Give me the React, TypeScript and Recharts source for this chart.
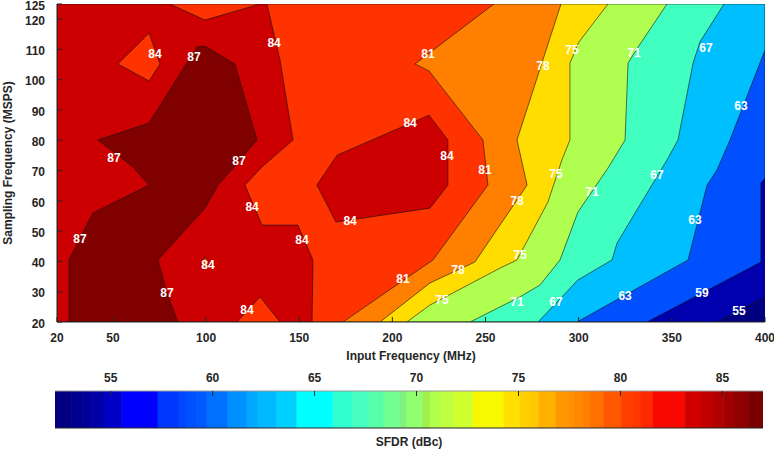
// Mapa de contorno del SFDR (dBc) frente a frecuencia de entrada y de muestreo, con barra de color.
import { Scatter, ScatterChart, XAxis, YAxis } from "recharts";

type Pt = [number, number];

const X_TICKS = [20, 50, 100, 150, 200, 250, 300, 350, 400];
const Y_TICKS = [20, 30, 40, 50, 60, 70, 80, 90, 100, 110, 120, 125];

// Zonas por encima de cada nivel (MHz, MSPS), se pintan de menor a mayor.
const BASE: Pt[] = [[20, 125], [400, 125], [400, 20], [20, 20]];
const LEVEL_55: Pt[] = [[20, 125], [400, 125], [400, 28.3], [374.2, 20], [20, 20]];
const LEVEL_59: Pt[] = [[20, 125], [400, 125], [400, 67.5], [397.8, 65.9], [397.8, 39.8], [336.7, 20], [20, 20]];
const LEVEL_63: Pt[] = [[20, 125], [400, 125], [400, 109.8], [381.2, 80.1], [374.2, 70.2], [368.9, 65.2], [358.7, 40.5], [299.1, 20], [20, 20]];
const LEVEL_67: Pt[] = [[20, 125], [378, 125], [365.1, 112.5], [361.4, 105.5], [353.3, 80.1], [347.4, 73.5], [320.6, 46.1], [317.9, 40.5], [299.6, 33.9], [278.2, 20], [20, 20]];
const LEVEL_71: Pt[] = [[20, 125], [347.4, 125], [331.9, 110.8], [326.5, 105.5], [324.9, 80.1], [315.7, 70.8], [299.6, 56.3], [290, 40.5], [279.2, 32.2], [268.5, 28.3], [241.7, 20], [20, 20]];
const LEVEL_75: Pt[] = [[20, 125], [315.7, 125], [300.2, 112.5], [295.3, 105.5], [295.3, 80.1], [291, 73.5], [283.5, 59.6], [266.9, 40.5], [257.8, 37.8], [220.2, 25.6], [207.8, 20], [20, 20]];
const LEVEL_78: Pt[] = [[20, 125], [290.5, 125], [266.9, 80.1], [272.3, 65.2], [244.3, 39.8], [220.2, 32.9], [193.4, 20], [20, 20]];
const LEVEL_81: Pt[] = [[20, 125], [254.5, 125], [212.1, 105.2], [219.7, 102.9], [248.6, 80.1], [251.3, 65.2], [221.8, 40.5], [173.5, 20], [20, 20]];
const LEVEL_84_WEST: Pt[] = [[20, 125], [80.6, 125], [99.4, 119.7], [129, 125], [132.7, 125], [139.7, 106.5], [146.7, 80.1], [130, 71.2], [120.9, 65.2], [130, 52], [149.3, 52], [157.4, 40.5], [156.9, 20], [139.7, 20], [129, 28.3], [116.6, 20], [20, 20]];
const LEVEL_84_MID: Pt[] = [[170.3, 75.1], [219.7, 88.3], [229.8, 80.1], [229.8, 65.2], [220.2, 57.6], [169.7, 53], [159.5, 65.2]];
const HOLE_81_A: Pt[] = [[52.7, 105.2], [69.4, 115.4], [75.3, 105.2], [69.4, 99.6]];
const HOLE_81_B: Pt[] = [[97.3, 39.2], [99.4, 41.5], [101.6, 39.8], [99.4, 37.5]];
const LEVEL_87: Pt[] = [[42, 80.1], [69.4, 85.7], [95.1, 110.8], [99.4, 111.1], [115.5, 105.2], [127.3, 80.1], [114.5, 70.8], [106.4, 65.2], [99.4, 57.6], [74.2, 40.5], [79, 29.6], [84.9, 20], [26.4, 20], [26.4, 40.5], [39.3, 56], [69.4, 65.2], [60.8, 71.2]];

const REGION_SHAPES: Pt[][] = [BASE, LEVEL_55, LEVEL_59, LEVEL_63, LEVEL_67, LEVEL_71, LEVEL_75, LEVEL_78, LEVEL_81, LEVEL_84_WEST, LEVEL_84_MID, HOLE_81_A, HOLE_81_B, LEVEL_87];
const REGION_COLORS = ["#000080", "#0000af", "#0050ff", "#00bfff", "#40ffc0", "#b0ff50", "#ffdd00", "#ff8000", "#ff3300", "#cc0000", "#cc0000", "#ff3300", "#ff3300", "#800000"];

// Etiquetas de nivel sobre las curvas: [MHz, MSPS, texto]
const LABELS: [number, number, string][] = [
  [72.6, 108.5, "84"], [93.5, 107.5, "87"], [136.5, 112.1, "84"], [50.6, 74.2, "87"],
  [117.7, 73.2, "87"], [32.3, 47.4, "87"], [124.7, 58, "84"], [101, 38.8, "84"],
  [79, 29.6, "87"], [122, 23.9, "84"], [151.5, 47.1, "84"], [177.3, 53.3, "84"],
  [209.5, 85.7, "84"], [229.3, 74.8, "84"], [219.1, 108.5, "81"], [249.7, 70.2, "81"],
  [205.7, 34.2, "81"], [280.8, 104.5, "78"], [266.9, 60, "78"], [235.2, 37.2, "78"],
  [296.4, 109.8, "75"], [287.8, 68.9, "75"], [268.5, 42.1, "75"], [226.6, 27.3, "75"],
  [329.7, 108.8, "71"], [307.1, 62.9, "71"], [266.9, 26.6, "71"], [368.3, 110.5, "67"],
  [342, 68.5, "67"], [287.8, 26.6, "67"], [387.1, 91.3, "63"], [362.4, 53.7, "63"],
  [324.9, 28.6, "63"], [366.2, 29.6, "59"], [386, 23.6, "55"],
];

// Barra de color: limites de cada bloque (dBc) y su color.
const CB_BREAKS = [52.27, 53.1, 53.64, 54.08, 54.72, 55.55, 57.32, 58.35, 58.74, 59.23, 59.72, 60.75, 61.68, 62.22, 63.15, 64.13, 65.9, 66.88, 67.71, 68.4, 69.18, 69.52, 70.31, 70.66, 71.24, 71.83, 72.77, 74.29, 75.07, 75.56, 76.0, 76.84, 77.43, 77.72, 78.16, 78.51, 79.19, 80.03, 80.57, 81.01, 81.6, 83.17, 83.95, 84.54, 85.04, 85.57, 86.26, 86.99];
const CB_COLORS = ["#000080", "#00008f", "#000098", "#0000a8", "#0000c8", "#0000ff", "#0038ff", "#0048ff", "#0050ff", "#0058ff", "#0070ff", "#0090ff", "#00a8ff", "#00b8ff", "#00d0ff", "#00ffff", "#30ffd0", "#48ffc0", "#58ffa8", "#70ff90", "#80f080", "#90ff70", "#a0f050", "#b0ff48", "#c0ff40", "#d0ff30", "#f8f800", "#ffe000", "#ffd000", "#ffc800", "#ffb000", "#ff9800", "#ff9000", "#ff8800", "#ff8000", "#ff7000", "#ff5800", "#ff4000", "#ff3800", "#ff2800", "#f80800", "#d00000", "#c00000", "#b00000", "#a00000", "#900000", "#780000"];
const CB_TICKS = [55, 60, 65, 70, 75, 80, 85];

const FONT = "'Liberation Sans', Arial, Helvetica, sans-serif";
const INK = "#262626";
const tickStyle = { fontSize: 12, fontWeight: 700, fill: INK };
const titleStyle = { fontSize: 12, fontWeight: 700, fill: INK };

const MAIN_MARGIN = { top: 4, right: 9, bottom: 48, left: 57 };
const CB_MARGIN = { top: 31, right: 11, bottom: 22, left: 55 };

const NoDot = () => <g />;

const ContourLabel = (p: any) => (
  <text x={p.cx} y={p.cy} textAnchor="middle" dominantBaseline="central" fill="#fff" fontSize={12} fontWeight={700}>
    {p.payload.text}
  </text>
);

// Poligono relleno: una serie Scatter cuya linea "joint" lleva relleno.
const polygon = (pts: Pt[], color: string, key: number, stroke: string) => (
  <Scatter
    key={key}
    data={[...pts, pts[0]].map(([x, y]) => ({ x, y }))}
    fill={color}
    line={{ fill: color, stroke, strokeWidth: stroke === "none" ? 0 : 0.6 }}
    lineType="joint"
    shape={NoDot}
    isAnimationActive={false}
  />
);

export default function App() {
  const labels = LABELS.map(([x, y, text]) => ({ x, y, text }));
  const cbMin = CB_BREAKS[0];
  const cbMax = CB_BREAKS[CB_BREAKS.length - 1];
  const mainCorners = [{ x: 20, y: 20 }, { x: 400, y: 125 }];
  const cbCorners = [{ x: cbMin, y: 0 }, { x: cbMax, y: 1 }];
  const layer = { position: "absolute" as const, left: 0 };

  return (
    <div style={{ position: "absolute", left: 0, top: 0, width: 774, height: 450, background: "#fff", fontFamily: FONT }}>
      {/* Capa 1: contornos rellenos y etiquetas */}
      <div style={{ ...layer, top: 0 }}>
        <ScatterChart width={774} height={370} margin={MAIN_MARGIN}>
          <XAxis type="number" dataKey="x" domain={[20, 400]} allowDataOverflow hide />
          <YAxis type="number" dataKey="y" domain={[20, 125]} allowDataOverflow hide />
          {REGION_SHAPES.map((pts, i) => polygon(pts, REGION_COLORS[i], i, i === 0 ? "none" : "#111"))}
          <Scatter data={labels} shape={ContourLabel} isAnimationActive={false} />
        </ScatterChart>
      </div>

      {/* Capa 2: ejes, marcas hacia dentro y titulos encima de los rellenos */}
      <div style={{ ...layer, top: 0 }}>
        <ScatterChart width={774} height={370} margin={{ top: 4, right: 9, bottom: 0, left: 0 }}>
          <XAxis
            type="number"
            dataKey="x"
            domain={[20, 400]}
            allowDataOverflow
            ticks={X_TICKS}
            interval={0}
            height={48}
            tickSize={-5}
            tickMargin={16}
            tick={tickStyle}
            axisLine={{ stroke: INK }}
            tickLine={{ stroke: INK }}
            label={{ value: "Input Frequency (MHz)", position: "insideBottom", offset: 10, style: titleStyle }}
          />
          <XAxis
            xAxisId="top"
            orientation="top"
            type="number"
            dataKey="x"
            domain={[20, 400]}
            allowDataOverflow
            ticks={X_TICKS}
            interval={0}
            height={0}
            tickSize={-5}
            tick={false}
            axisLine={{ stroke: "#9a9a9a" }}
            tickLine={{ stroke: INK }}
          />
          <YAxis
            type="number"
            dataKey="y"
            domain={[20, 125]}
            allowDataOverflow
            ticks={Y_TICKS}
            interval={0}
            width={57}
            tickSize={-5}
            tickMargin={17}
            tick={{ ...tickStyle, dy: 1.5 }}
            axisLine={{ stroke: INK }}
            tickLine={{ stroke: INK }}
            label={{
              value: "Sampling Frequency (MSPS)",
              angle: -90,
              position: "insideLeft",
              offset: 8,
              style: { ...titleStyle, textAnchor: "middle" },
            }}
          />
          <YAxis
            yAxisId="right"
            orientation="right"
            type="number"
            dataKey="y"
            domain={[20, 125]}
            allowDataOverflow
            ticks={Y_TICKS}
            interval={0}
            width={0}
            tickSize={-5}
            tick={false}
            axisLine={{ stroke: INK }}
            tickLine={{ stroke: INK }}
          />
          <Scatter data={mainCorners} shape={NoDot} isAnimationActive={false} />
          <Scatter data={mainCorners} xAxisId="top" yAxisId="right" shape={NoDot} isAnimationActive={false} />
        </ScatterChart>
      </div>

      {/* Barra de color */}
      <div style={{ ...layer, top: 360 }}>
        <ScatterChart width={774} height={90} margin={CB_MARGIN}>
          <XAxis type="number" dataKey="x" domain={[cbMin, cbMax]} allowDataOverflow hide />
          <YAxis type="number" dataKey="y" domain={[0, 1]} allowDataOverflow hide />
          {CB_COLORS.map((c, i) =>
            polygon(
              [[CB_BREAKS[i], 0], [CB_BREAKS[i + 1], 0], [CB_BREAKS[i + 1], 1], [CB_BREAKS[i], 1]],
              c,
              i,
              c,
            ),
          )}
        </ScatterChart>
      </div>
      <div style={{ ...layer, top: 360 }}>
        <ScatterChart width={774} height={90} margin={{ top: 0, right: 11, bottom: 0, left: 55 }}>
          <XAxis
            xAxisId="top"
            orientation="top"
            type="number"
            dataKey="x"
            domain={[cbMin, cbMax]}
            allowDataOverflow
            ticks={CB_TICKS}
            interval={0}
            height={31}
            tickSize={-5}
            tickMargin={14}
            tick={tickStyle}
            axisLine={{ stroke: "#9a9a9a" }}
            tickLine={{ stroke: INK }}
          />
          <XAxis
            xAxisId="bottom"
            orientation="bottom"
            type="number"
            dataKey="x"
            domain={[cbMin, cbMax]}
            allowDataOverflow
            ticks={CB_TICKS}
            interval={0}
            height={22}
            tickSize={-5}
            tick={false}
            axisLine={{ stroke: INK }}
            tickLine={{ stroke: INK }}
            label={{ value: "SFDR (dBc)", position: "insideBottom", offset: 4, style: titleStyle }}
          />
          <YAxis type="number" dataKey="y" domain={[0, 1]} allowDataOverflow hide />
          <Scatter data={cbCorners} xAxisId="top" shape={NoDot} isAnimationActive={false} />
          <Scatter data={cbCorners} xAxisId="bottom" shape={NoDot} isAnimationActive={false} />
        </ScatterChart>
      </div>
    </div>
  );
}
